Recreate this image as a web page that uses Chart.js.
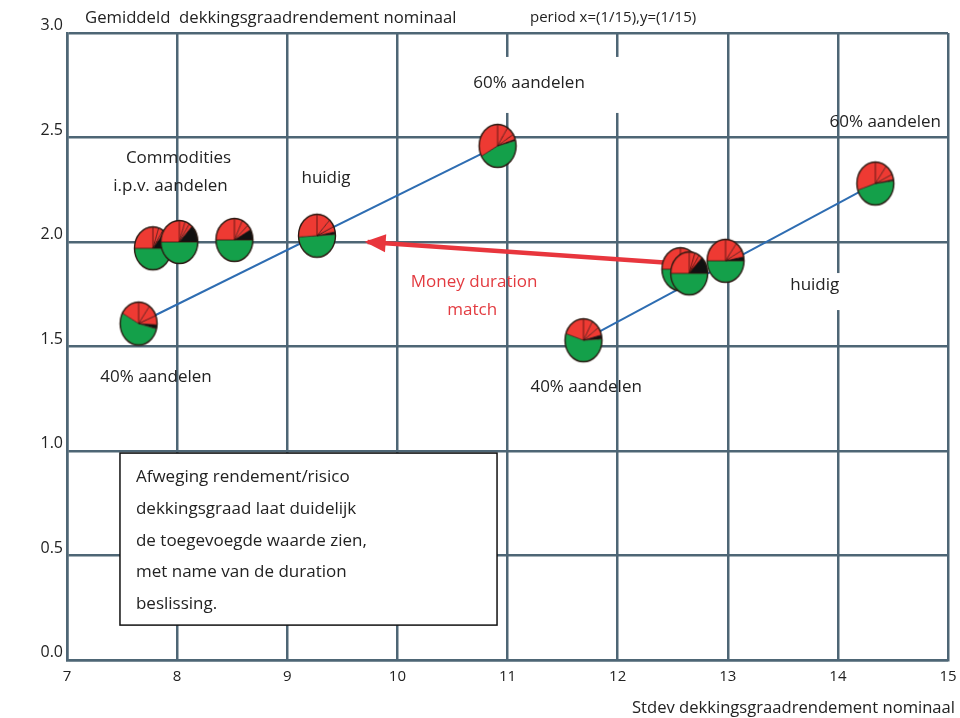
<!DOCTYPE html>
<html>
<head>
<meta charset="utf-8">
<script src="https://cdn.jsdelivr.net/npm/chart.js@4.4.1/dist/chart.umd.min.js"></script>
<style>
  html, body { margin: 0; padding: 0; background: #ffffff; }
  #wrap { width: 960px; height: 718px; position: relative; }
</style>
</head>
<body>
<div id="wrap"><canvas id="chart"></canvas></div>
<script>
// Portefeuilles: stdev (x) en gemiddeld rendement (y) van de dekkingsgraad
const portefeuilles = ['Commodities A', 'Commodities B', 'Commodities C', 'Huidig', '40% aandelen',
  '60% aandelen', '40% aandelen MDM', 'Huidig MDM A', 'Huidig MDM B', 'Huidig MDM C', '60% aandelen MDM'];
const stdev     = [7.78, 8.02, 8.52, 9.27, 7.65, 10.91, 11.69, 12.57, 12.65, 12.98, 14.34];
const rendement = [1.97, 2.00, 2.01, 2.03, 1.61, 2.46, 1.53, 1.87, 1.85, 1.91, 2.28];

// Samenstelling per portefeuille (aandeel van de taart, met de klok mee vanaf 12 uur)
const aandelen1   = [0.05, 0.05, 0.07, 0.12, 0.10, 0.09, 0.08, 0.10, 0.05, 0.10, 0.10];
const aandelen2   = [0.04, 0.04, 0.06, 0.06, 0.09, 0.07, 0.07, 0.07, 0.04, 0.07, 0.08];
const aandelen3   = [0.02, 0.03, 0.04, 0.04, 0.07, 0.04, 0.06, 0.05, 0.03, 0.05, 0.04];
const commodities = [0.14, 0.13, 0.08, 0.02, 0.03, 0.01, 0.03, 0.03, 0.13, 0.03, 0.01];
const obligaties  = [0.50, 0.50, 0.50, 0.50, 0.54, 0.46, 0.56, 0.50, 0.50, 0.50, 0.47];
const aandelen4   = [0.25, 0.25, 0.25, 0.26, 0.17, 0.33, 0.20, 0.25, 0.25, 0.25, 0.30];

// Lijnen tussen 40% en 60% aandelen
const lijnHuidigX = [7.65, 10.91];
const lijnHuidigY = [1.61, 2.46];
const lijnMdmX    = [11.69, 14.34];
const lijnMdmY    = [1.53, 2.28];

// Pijl money duration match
const pijlX = [12.49, 9.73];
const pijlY = [1.90, 2.00];

// As-ticks
const xTicks = [7, 8, 9, 10, 11, 12, 13, 14, 15];
const yTicks = [0.0, 0.5, 1.0, 1.5, 2.0, 2.5, 3.0];

const RED = '#ee3a33', GREEN = '#14a04a', BLACK = '#111111';
const GRID = '#4e6675';
const ARROW = '#e8363d';
const LINE_BLUE = '#2e6db2';
const FONT = '"Open Sans", "Noto Sans", sans-serif';

Chart.defaults.font.family = FONT;
Chart.defaults.color = '#222222';

// Taartje als puntsymbool
function makePie(i) {
  const rx = 18.5, ry = 21.5;
  const w = 42, h = 48;
  const cv = document.createElement('canvas');
  cv.width = w; cv.height = h;
  const c = cv.getContext('2d');
  const cx = w / 2, cy = h / 2;
  const parts = [
    [aandelen1[i], RED], [aandelen2[i], RED], [aandelen3[i], RED],
    [commodities[i], BLACK], [obligaties[i], GREEN], [aandelen4[i], RED]
  ];
  let a = -Math.PI / 2;
  const starts = [];
  parts.forEach(([v, col]) => {
    if (v <= 0) return;
    const a1 = a + v * Math.PI * 2;
    c.beginPath();
    c.moveTo(cx, cy);
    c.ellipse(cx, cy, rx, ry, 0, a, a1);
    c.closePath();
    c.fillStyle = col;
    c.fill();
    starts.push(a);
    a = a1;
  });
  c.strokeStyle = 'rgba(60,12,10,0.85)';
  c.lineWidth = 0.9;
  starts.forEach(s => {
    c.beginPath();
    c.moveTo(cx, cy);
    c.lineTo(cx + rx * Math.cos(s), cy + ry * Math.sin(s));
    c.stroke();
  });
  c.beginPath();
  c.ellipse(cx, cy, rx, ry, 0, 0, Math.PI * 2);
  c.strokeStyle = '#2a1a12';
  c.lineWidth = 1.4;
  c.stroke();
  return cv;
}
const pieImages = stdev.map((_, i) => makePie(i));

// Teksten in de grafiek (ankerpunt in aswaarden); wit = witte achtergrond (l, r, t, b)
const teksten = [
  { t: '60% aandelen', x: 11.196, y: 2.761, wit: [6, 36, 26, 30] },
  { t: '60% aandelen', x: 14.43, y: 2.574 },
  { t: 'Commodities', x: 8.013, y: 2.402 },
  { t: 'i.p.v. aandelen', x: 7.94, y: 2.268 },
  { t: 'huidig', x: 9.352, y: 2.306 },
  { t: '40% aandelen', x: 7.808, y: 1.354 },
  { t: '40% aandelen', x: 11.714, y: 1.306 },
  { t: 'huidig', x: 13.79, y: 1.794, wit: [6, 6, 12, 25] },
  { t: 'Money duration', x: 10.697, y: 1.809, kleur: '#e33b40' },
  { t: 'match', x: 10.68, y: 1.675, kleur: '#e33b40' }
];
const kaderRegels = ['Afweging rendement/risico', 'dekkingsgraad laat duidelijk',
  'de toegevoegde waarde zien,', 'met name van de duration', 'beslissing.'];
const kader = { x0: 7.481, x1: 10.905, y0: 0.990, y1: 0.167 };

const annotaties = {
  id: 'annotaties',
  afterDatasetsDraw(chart) {
    const { ctx, scales: { x, y } } = chart;
    ctx.save();
    // pijlpunt
    const meta = chart.getDatasetMeta(1);
    const p0 = meta.data[0], p1 = meta.data[1];
    const dx = p1.x - p0.x, dy = p1.y - p0.y;
    const len = Math.hypot(dx, dy);
    const ux = dx / len, uy = dy / len;
    const tipX = p1.x + ux * 3, tipY = p1.y + uy * 3;
    const bx = tipX - ux * 21, by = tipY - uy * 21;
    ctx.beginPath();
    ctx.moveTo(tipX, tipY);
    ctx.lineTo(bx - uy * 9, by + ux * 9);
    ctx.lineTo(bx + uy * 9, by - ux * 9);
    ctx.closePath();
    ctx.fillStyle = ARROW;
    ctx.fill();

    // labels
    ctx.font = '17px ' + FONT;
    ctx.textAlign = 'center';
    ctx.textBaseline = 'middle';
    teksten.forEach(l => {
      const px = x.getPixelForValue(l.x), py = y.getPixelForValue(l.y);
      if (l.wit) {
        const tw = ctx.measureText(l.t).width;
        const [wl, wr, wt, wb] = l.wit;
        ctx.fillStyle = '#ffffff';
        ctx.fillRect(px - tw / 2 - wl, py - wt, tw + wl + wr, wt + wb);
      }
      ctx.fillStyle = l.kleur || '#222222';
      ctx.fillText(l.t, px, py);
    });

    // tekstkader
    const kx0 = x.getPixelForValue(kader.x0), kx1 = x.getPixelForValue(kader.x1);
    const ky0 = y.getPixelForValue(kader.y0), ky1 = y.getPixelForValue(kader.y1);
    ctx.fillStyle = '#ffffff';
    ctx.fillRect(kx0, ky0, kx1 - kx0, ky1 - ky0);
    ctx.strokeStyle = '#111111';
    ctx.lineWidth = 1.5;
    ctx.strokeRect(kx0, ky0, kx1 - kx0, ky1 - ky0);
    ctx.fillStyle = '#222222';
    ctx.textAlign = 'left';
    kaderRegels.forEach((r, i) => {
      ctx.fillText(r, kx0 + 16, ky0 + 24 + i * 31.8);
    });
    ctx.restore();
  },
  afterDraw(chart) {
    const { ctx, scales: { y }, chartArea } = chart;
    ctx.save();
    // y-as labels net boven de rasterlijn
    ctx.font = '16px ' + FONT;
    ctx.fillStyle = '#222222';
    ctx.textAlign = 'right';
    ctx.textBaseline = 'alphabetic';
    y.ticks.forEach(t => {
      ctx.fillText(t.value.toFixed(1), chartArea.left - 4, y.getPixelForValue(t.value) - 3);
    });
    // titels
    ctx.textBaseline = 'middle';
    ctx.textAlign = 'left';
    ctx.font = '16.7px ' + FONT;
    ctx.fillText('Gemiddeld  dekkingsgraadrendement nominaal', 85, 18);
    ctx.font = '15px ' + FONT;
    ctx.fillText('period x=(1/15),y=(1/15)', 530, 18);
    ctx.textAlign = 'right';
    ctx.font = '16.6px ' + FONT;
    ctx.fillText('Stdev dekkingsgraadrendement nominaal', 955, 708);
    ctx.restore();
  }
};

new Chart(document.getElementById('chart'), {
  type: 'scatter',
  data: {
    datasets: [
      {
        label: 'Portefeuilles',
        data: stdev.map((v, i) => ({ x: v, y: rendement[i] })),
        pointStyle: pieImages,
        pointRadius: 19,
        order: 0
      },
      {
        label: 'Money duration match',
        data: pijlX.map((v, i) => ({ x: v, y: pijlY[i] })),
        showLine: true,
        borderColor: ARROW,
        borderWidth: 4.5,
        pointRadius: 0,
        order: 1
      },
      {
        label: 'Huidig',
        data: lijnHuidigX.map((v, i) => ({ x: v, y: lijnHuidigY[i] })),
        showLine: true,
        borderColor: LINE_BLUE,
        borderWidth: 2,
        pointRadius: 0,
        order: 2
      },
      {
        label: 'Money duration match lijn',
        data: lijnMdmX.map((v, i) => ({ x: v, y: lijnMdmY[i] })),
        showLine: true,
        borderColor: LINE_BLUE,
        borderWidth: 2,
        pointRadius: 0,
        order: 3
      }
    ]
  },
  options: {
    responsive: true,
    maintainAspectRatio: false,
    animation: false,
    events: [],
    layout: { autoPadding: false, padding: { top: 33, right: 12, left: 0, bottom: 0 } },
    plugins: { legend: { display: false }, tooltip: { enabled: false } },
    scales: {
      x: {
        type: 'linear',
        min: xTicks[0],
        max: xTicks[xTicks.length - 1],
        afterBuildTicks(s) { s.ticks = xTicks.map(v => ({ value: v })); },
        ticks: { font: { size: 15 }, color: '#222222', padding: 8, maxRotation: 0, callback: v => String(v) },
        grid: { color: GRID, lineWidth: 2.5, drawTicks: false },
        border: { color: GRID, width: 2.5 },
        afterFit(s) { s.height = 58; s.paddingLeft = 0; s.paddingRight = 0; }
      },
      y: {
        type: 'linear',
        min: yTicks[0],
        max: yTicks[yTicks.length - 1],
        afterBuildTicks(s) { s.ticks = yTicks.map(v => ({ value: v })); },
        ticks: { display: false },
        grid: { color: GRID, lineWidth: 2.5, drawTicks: false },
        border: { color: GRID, width: 2.5 },
        afterFit(s) { s.width = 67; s.paddingTop = 0; s.paddingBottom = 0; }
      }
    }
  },
  plugins: [annotaties]
});
</script>
</body>
</html>
